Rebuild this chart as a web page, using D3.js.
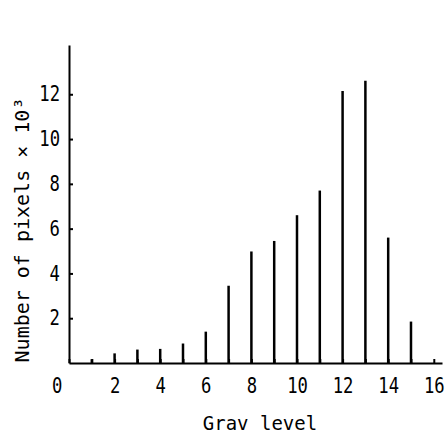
<!DOCTYPE html>
<html>
<head>
<meta charset="utf-8">
<script src="https://cdn.jsdelivr.net/npm/d3@7"></script>
<style>
  body { margin: 0; background: #fff; }
  text { font-family: "DejaVu Sans Mono", monospace; fill: #000; }
</style>
</head>
<body>
<div id="chart"></div>
<script>
// grav levels and pixel counts (x 10^3)
var levels = [1, 2, 3, 4, 5, 6, 7, 8, 9, 10, 11, 12, 13, 14, 15];
var counts = [0.17, 0.43, 0.6, 0.63, 0.87, 1.4, 3.45, 4.98, 5.45, 6.6, 7.7, 12.15, 12.6, 5.6, 1.85];
var xTicks = [0, 1, 2, 3, 4, 5, 6, 7, 8, 9, 10, 11, 12, 13, 14, 15, 16];
var yTicks = [2, 4, 6, 8, 10, 12];

var svgWidth = 445, svgHeight = 437;

var svg = d3.select("#chart")
  .append("svg")
  .attr("width", svgWidth)
  .attr("height", svgHeight);

var xScale = d3.scaleLinear().domain([0, 16.36]).range([69, 442]);
var yScale = d3.scaleLinear().domain([0, 14.2]).range([363, 45]);

// x axis, ticks pointing up
var bottomAxis = d3.axisBottom(xScale)
  .tickValues(xTicks)
  .tickSizeInner(-4)
  .tickSizeOuter(0)
  .tickFormat(d => d % 2 === 0 ? d : "");

var xAxis = svg.append("g")
  .attr("transform", `translate(0, ${yScale(0)})`)
  .call(bottomAxis);

xAxis.selectAll("text")
  .attr("y", 30)
  .attr("dy", 0)
  .attr("font-size", 21)
  .attr("transform", "scale(0.82,1)")
  .attr("x", d => d === 0 ? -15 : 0);

// y axis, ticks pointing right
var leftAxis = d3.axisLeft(yScale)
  .tickValues(yTicks)
  .tickSizeInner(-4)
  .tickSizeOuter(0);

var yAxis = svg.append("g")
  .attr("transform", `translate(${xScale(0)}, 0)`)
  .call(leftAxis);

yAxis.selectAll("text")
  .attr("x", -11)
  .attr("font-size", 21)
  .attr("transform", "scale(0.82,1)");

svg.selectAll(".domain, .tick line")
  .attr("stroke", "#000")
  .attr("stroke-width", 2);

// bars drawn as thin vertical lines
svg.selectAll(".bar")
  .data(levels)
  .enter()
  .append("line")
  .attr("class", "bar")
  .attr("x1", d => xScale(d))
  .attr("x2", d => xScale(d))
  .attr("y1", yScale(0))
  .attr("y2", (d, i) => yScale(counts[i]))
  .attr("stroke", "#000")
  .attr("stroke-width", 2.5);

// axis titles
svg.append("text")
  .attr("x", 260)
  .attr("y", 430)
  .attr("text-anchor", "middle")
  .attr("font-size", 19)
  .text("Grav level");

svg.append("text")
  .attr("transform", "translate(29, 230) rotate(-90)")
  .attr("text-anchor", "middle")
  .attr("font-size", 20)
  .text("Number of pixels × 10³");
</script>
</body>
</html>
